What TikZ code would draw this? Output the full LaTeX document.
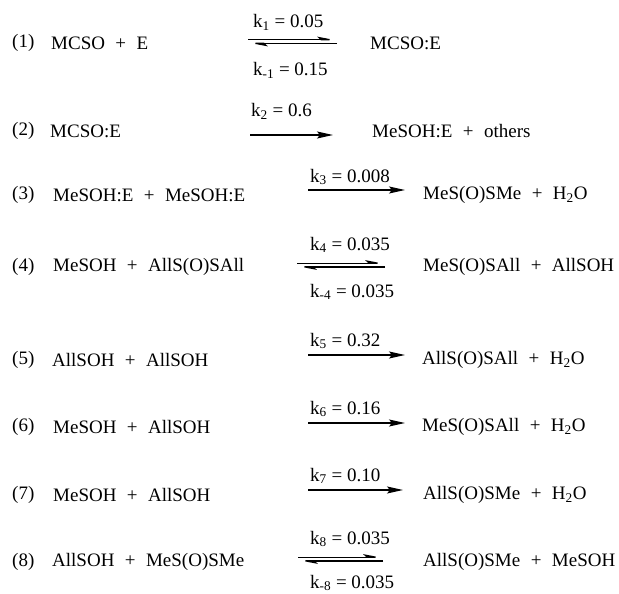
\documentclass[tikz,border=0pt]{standalone}
\usepackage{fontspec}
\setmainfont{Liberation Serif}
\usetikzlibrary{arrows.meta}
\newcommand\pl{\hspace{0.55em}+\hspace{0.55em}}
\tikzset{
  txt/.style={anchor=west,inner sep=0pt,font=\fontsize{19}{22}\selectfont},
  lab/.style={anchor=west,inner sep=0pt,font=\fontsize{19}{22}\selectfont},
  fwd/.style={line width=1.5pt,-{Stealth[length=16pt,width=7pt,inset=3pt]}},
  harp/.style={line width=1.4pt,-{Stealth[harpoon,length=16pt,width=6pt,inset=3pt]}}
}
\begin{document}
\begin{tikzpicture}[x=1pt,y=-1pt]
\useasboundingbox[fill=white] (0,0) rectangle (619,594);
% row 1
\node[txt] (n1) at (12,43) {(1)};
\node[txt] (r1) at (51,43) {MCSO\pl E};
\node[txt] (p1) at (370,43) {MCSO:E};
\coordinate (a1s) at (248,41.5); \coordinate (a1e) at (337,41.5);
\draw[harp] ([yshift=1.8pt]a1s) -- ([yshift=1.8pt]a1e);
\draw[harp] ([yshift=-1.8pt]a1e) -- ([yshift=-1.8pt]a1s);
\node[lab] (k1) at (253,22) {k\textsubscript{1} = 0.05};
\node[lab] (km1) at (253,70) {k\textsubscript{-1} = 0.15};
% row 2
\node[txt] (n2) at (12,131) {(2)};
\node[txt] (r2) at (50,131) {MCSO:E};
\node[txt] (p2) at (372,131) {MeSOH:E\pl others};
\coordinate (a2s) at (250,135); \coordinate (a2e) at (333,135);
\draw[fwd] (a2s) -- (a2e);
\node[lab] (k2) at (251,111) {k\textsubscript{2} = 0.6};
% row 3
\node[txt] (n3) at (12,195) {(3)};
\node[txt] (r3) at (53,195) {MeSOH:E\pl MeSOH:E};
\node[txt] (p3) at (423,195) {MeS(O)SMe\pl H\textsubscript{2}O};
\coordinate (a3s) at (308,190); \coordinate (a3e) at (405,190);
\draw[fwd] (a3s) -- (a3e);
\node[lab] (k3) at (310,177) {k\textsubscript{3} = 0.008};
% row 4
\node[txt] (n4) at (12,267) {(4)};
\node[txt] (r4) at (53,267) {MeSOH\pl AllS(O)SAll};
\node[txt] (p4) at (423,267) {MeS(O)SAll\pl AllSOH};
\coordinate (a4s) at (297,265); \coordinate (a4e) at (385,265);
\draw[harp] ([yshift=1.8pt]a4s) -- ([yshift=1.8pt]a4e);
\draw[harp] ([yshift=-1.8pt]a4e) -- ([yshift=-1.8pt]a4s);
\node[lab] (k4) at (310,245) {k\textsubscript{4} = 0.035};
\node[lab] (km4) at (310,292) {k\textsubscript{-4} = 0.035};
% row 5
\node[txt] (n5) at (12,360) {(5)};
\node[txt] (r5) at (52,360) {AllSOH\pl AllSOH};
\node[txt] (p5) at (422,360) {AllS(O)SAll\pl H\textsubscript{2}O};
\coordinate (a5s) at (308,355); \coordinate (a5e) at (405,355);
\draw[fwd] (a5s) -- (a5e);
\node[lab] (k5) at (310,341) {k\textsubscript{5} = 0.32};
% row 6
\node[txt] (n6) at (12,427) {(6)};
\node[txt] (r6) at (53,427) {MeSOH\pl AllSOH};
\node[txt] (p6) at (422,427) {MeS(O)SAll\pl H\textsubscript{2}O};
\coordinate (a6s) at (308,423); \coordinate (a6e) at (405,423);
\draw[fwd] (a6s) -- (a6e);
\node[lab] (k6) at (310,409) {k\textsubscript{6} = 0.16};
% row 7
\node[txt] (n7) at (12,495) {(7)};
\node[txt] (r7) at (53,495) {MeSOH\pl AllSOH};
\node[txt] (p7) at (423,495) {AllS(O)SMe\pl H\textsubscript{2}O};
\coordinate (a7s) at (308,490); \coordinate (a7e) at (403,490);
\draw[fwd] (a7s) -- (a7e);
\node[lab] (k7) at (310,476) {k\textsubscript{7} = 0.10};
% row 8
\node[txt] (n8) at (12,562) {(8)};
\node[txt] (r8) at (52,562) {AllSOH\pl MeS(O)SMe};
\node[txt] (p8) at (423,562) {AllS(O)SMe\pl MeSOH};
\coordinate (a8s) at (298,559); \coordinate (a8e) at (383,559);
\draw[harp] ([yshift=1.8pt]a8s) -- ([yshift=1.8pt]a8e);
\draw[harp] ([yshift=-1.8pt]a8e) -- ([yshift=-1.8pt]a8s);
\node[lab] (k8) at (310,539) {k\textsubscript{8} = 0.035};
\node[lab] (km8) at (310,583) {k\textsubscript{-8} = 0.035};
\end{tikzpicture}
\end{document}
